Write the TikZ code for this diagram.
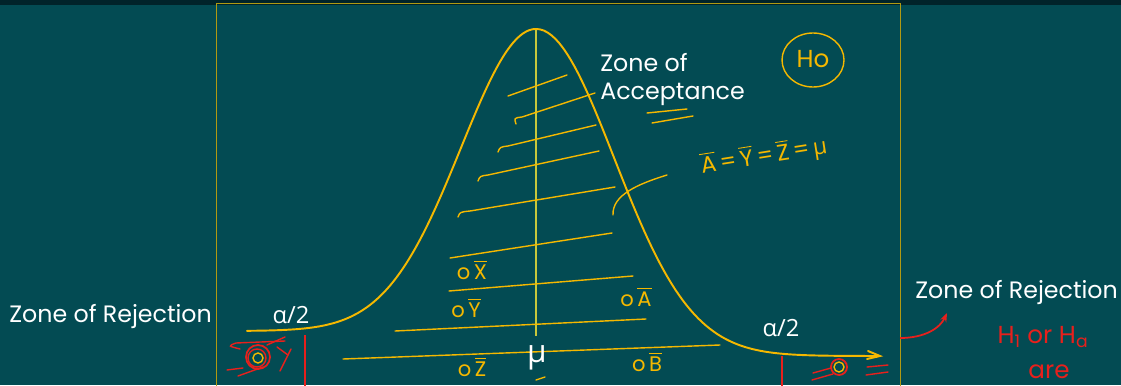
\documentclass[tikz,border=0pt]{standalone}
\usepackage{amsmath}
\usepackage{fontspec}
\setmainfont{Poppins}
\newfontfamily\greekfont{Open Sans}
\usetikzlibrary{arrows.meta}

\definecolor{boardbg}{HTML}{034B53}
\definecolor{topbar}{HTML}{01232A}
\definecolor{chalk}{HTML}{F5B800}
\definecolor{frameline}{HTML}{B09A12}
\definecolor{midline}{HTML}{C8C83C}
\definecolor{inkred}{HTML}{E8201C}

\newcommand{\barred}[1]{$\overline{\mbox{#1}}$}

\begin{document}
\begin{tikzpicture}[x=0.02cm, y=-0.02cm,
    zonetext/.style={text=white, font=\fontsize{13.5}{16}\selectfont, inner sep=0pt},
    handtext/.style={text=chalk, font=\fontsize{12}{14}\selectfont, inner sep=0pt},
    redtext/.style={text=inkred, font=\fontsize{14}{16}\selectfont, inner sep=0pt},
    hatch/.style={chalk, line width=0.8pt, line cap=round},
    scribble/.style={inkred, line width=0.8pt, line cap=round}]
    % Board: 1121x385 px, one unit = one pixel, y runs down

    % Background and top bar
    \useasboundingbox (0,0) rectangle (1121,385);
    \fill[boardbg] (0,0) rectangle (1121,385);
    \fill[topbar] (0,0) rectangle (1121,5);

    % Frame (open at the bottom)
    \draw[frameline, line width=0.6pt] (216.5,386) |- (900.5,3.5) -- (900.5,386);

    % Bell curve: left and right halves
    \draw[chalk, line width=1.1pt, line cap=round]
        plot[domain=247:536, samples=90] (\x, {331-302*exp(-((\x-536)/75)^2/2)})
        -- plot[domain=536:880, samples=90] (\x, {356-327*exp(-((\x-536)/78)^2/2)});
    \draw[chalk, line width=1.1pt, line cap=round] (868,351) -- (880,356) -- (867,359);

    % Mean line
    \draw[midline, line width=0.6pt] (536,30) -- (536,336);

    % Hatching of the acceptance zone
    \draw[hatch] (508,96) -- (567,75);
    \draw[hatch] (516,124) .. controls (514,118) .. (522,117) -- (595,93);
    \draw[hatch] (498,152) .. controls (500,147) .. (508,146) -- (596,125);
    \draw[hatch] (478,181) .. controls (480,176) .. (488,175) -- (599,151);
    \draw[hatch] (458,217) .. controls (460,212) .. (470,211) -- (615,187);
    \draw[hatch] (450,258) -- (612,233);
    \draw[hatch] (449,291) -- (633,276);
    \draw[hatch] (395,331) -- (646,319);
    \draw[hatch] (343,359) -- (720,345);

    % Underlines below the acceptance label
    \draw[hatch] (647,113) -- (687,109);
    \draw[hatch] (652,123) -- (693,116);

    % Pointer to the equality
    \draw[hatch] (613,215) .. controls (612,195) and (638,184) .. (667,175);

    % Labels
    \node[zonetext, anchor=west] (rejleft) at (9,317) {Zone of Rejection};
    \node[zonetext, anchor=west] (rejright) at (915,293) {Zone of Rejection};
    \node[zonetext, anchor=north west, align=left] (accept) at (600,53) {Zone of\\Acceptance};
    \node[zonetext] (alphaleft) at (291,315) {\greekfont α/2};
    \node[zonetext] (alpharight) at (781,328) {\greekfont α/2};
    \node[zonetext, font=\fontsize{18}{20}\selectfont] (mean) at (537,358) {\greekfont μ};
    \draw[hatch] (536,380) -- (545,377);

    % Handwritten notes
    \draw[chalk, line width=0.8pt] (813,60) ellipse (31 and 27);
    \node[handtext, font=\fontsize{14}{16}\selectfont] (nulltext) at (813,59) {Ho};
    \node[handtext, rotate=9, font=\fontsize{13}{15}\selectfont] (equal) at (764,156)
        {\barred{A}\,=\,\barred{Y}\,=\,\barred{Z}\,=\,{\greekfont μ}};
    \node[handtext] (sampx) at (472,270) {o\,\barred{X}};
    \node[handtext] (sampy) at (466,308) {o\,\barred{Y}};
    \node[handtext] (sampa) at (636,297) {o\,\barred{A}};
    \node[handtext] (sampz) at (472,367) {o\,\barred{Z}};
    \node[handtext] (sampb) at (647,362) {o\,\barred{B}};

    % Rejection marks, left tail
    \draw[inkred, line width=1pt] (305,335) -- (305,386);
    \draw[inkred, line width=1pt] (258,357) circle (12);
    \draw[inkred, line width=0.8pt] (257,358) circle (9);
    \draw[chalk, line width=0.8pt] (258,358) circle (5);
    \draw[scribble] (285,341) -- (236,343) .. controls (228,346) .. (240,349);
    \draw[scribble] (267,345) -- (285,337);
    \draw[scribble] (227,370) -- (243,368);
    \draw[scribble] (238,376) -- (263,367);
    \draw[scribble] (277,347) -- (288,355);
    \draw[scribble] (291,349) -- (280,371);

    % Rejection marks, right tail
    \draw[inkred, line width=1pt] (782,356) -- (782,386);
    \draw[inkred, line width=1pt] (839,367) circle (8);
    \draw[chalk, line width=0.8pt] (839,367) circle (5);
    \draw[scribble] (813,373) -- (831,368);
    \draw[scribble] (812,380) -- (833,374);
    \draw[scribble] (867,367) -- (888,365);
    \draw[scribble] (866,375) -- (888,372);

    % Arrow to the right rejection zone
    \coordinate (tailright) at (900,338);
    \coordinate (headright) at (947,313);
    \draw[inkred, line width=1pt, -{Stealth[length=5pt]}] (tailright) .. controls (925,338) and (940,328) .. (headright);
    \node[redtext] (althyp) at (1043,337) {H\textsubscript{1} or H\textsubscript{a}};
    \node[redtext] (arelabel) at (1049,372) {are};
\end{tikzpicture}
\end{document}
